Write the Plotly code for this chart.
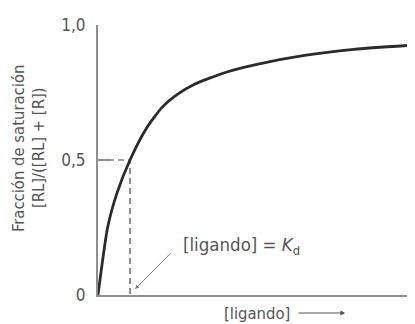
import plotly.graph_objects as go

# Saturation curve (x in units of Kd)
ligando = [0, 0.3, 0.6, 1.0, 1.5, 2.0, 2.5, 3.0, 4.0, 5.0, 6.5, 8.0, 9.9]
fraccion = [0, 0.25, 0.38, 0.5, 0.615, 0.695, 0.745, 0.78, 0.825, 0.855, 0.888, 0.91, 0.926]

kd = 1.0
half = 0.5
tick_vals = [0, 0.5, 1.0]
tick_text = ["0", "0,5", "1,0"]

FONT = "Liberation Sans Narrow, DejaVu Sans Condensed, Arial Narrow, sans-serif"
TXT = "#555555"
AX = "#8f8f8f"

fig = go.Figure()
fig.add_trace(go.Scatter(x=[0, kd, kd], y=[half, half, 0], mode="lines",
                         line=dict(color="#444444", width=1.2, dash="6px,4px"),
                         hoverinfo="skip", showlegend=False))
fig.add_trace(go.Scatter(x=ligando, y=fraccion, mode="lines",
                         line=dict(color="#2b2b2b", width=2.8, shape="spline", smoothing=0.6),
                         showlegend=False))

# page body has an 8px default margin: size the figure so the plot lands where the reference has it
fig.update_layout(
    width=407, height=316,
    margin=dict(l=90, r=0, t=17, b=29),
    paper_bgcolor="white", plot_bgcolor="white",
    font=dict(family=FONT, color=TXT, size=16),
    xaxis=dict(range=[0, 9.9], showgrid=False, zeroline=False, showticklabels=False,
               ticks="", showline=True, linecolor=AX, linewidth=2, fixedrange=True),
    yaxis=dict(range=[0, 1.0], showgrid=False, zeroline=False, tickvals=tick_vals,
               ticktext=tick_text, ticks="inside", ticklen=13, tickwidth=1.5,
               tickcolor=AX, showline=True, linecolor=AX, linewidth=2,
               ticklabelstandoff=7, tickfont=dict(size=17, color=TXT), fixedrange=True),
    annotations=[
        dict(text="Fracción de saturación", xref="paper", yref="paper", x=0, y=0.544,
             xanchor="center", yanchor="middle", xshift=-80, textangle=-90, showarrow=False,
             font=dict(size=16.5, color=TXT)),
        dict(text="[RL]/([RL] + [R])", xref="paper", yref="paper", x=0, y=0.544,
             xanchor="center", yanchor="middle", xshift=-60, textangle=-90, showarrow=False,
             font=dict(size=16.5, color=TXT)),
        dict(text="[ligando] = <i>K</i><sub>d</sub>", x=2.6, y=0.18, xref="x", yref="y",
             showarrow=False, xanchor="left", yanchor="middle",
             font=dict(size=18.5, color=TXT)),
        dict(text="", x=1.16, y=0.022, xref="x", yref="y",
             ax=2.31, ay=0.16, axref="x", ayref="y", showarrow=True, arrowhead=2,
             arrowsize=0.8, arrowwidth=1, arrowcolor="#777777"),
        dict(text="[ligando]", xref="x", yref="paper", x=3.875, y=0,
             xanchor="left", yanchor="middle", yshift=-18, showarrow=False,
             font=dict(size=16.5, color=TXT)),
        dict(text="", xref="x", yref="paper", x=7.72, y=-0.0667,
             ax=-48, ay=0, axref="pixel", ayref="pixel", showarrow=True, arrowhead=2,
             arrowsize=0.8, arrowwidth=1.2, arrowcolor="#555555"),
    ],
)
fig.write_html("out.html")
